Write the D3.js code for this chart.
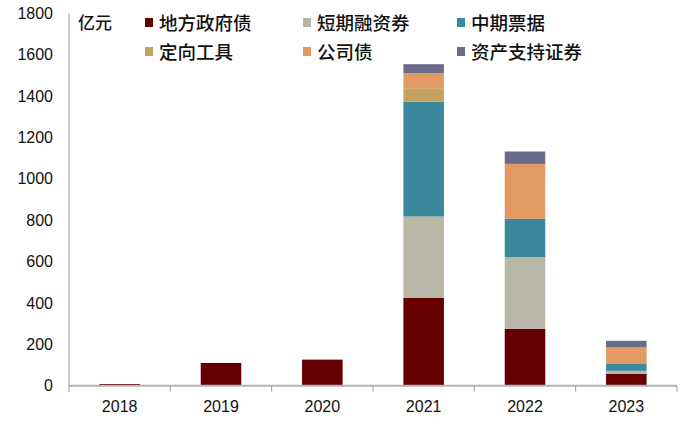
<!DOCTYPE html>
<html><head><meta charset="utf-8">
<script src="https://cdn.jsdelivr.net/npm/d3@7"></script>
<style>
html,body{margin:0;padding:0;background:#fff;}
svg{display:block;}
</style></head>
<body>
<svg id="c" width="696" height="425"></svg>
<script>
const years = ["2018","2019","2020","2021","2022","2023"];
const seriesNames = ["地方政府债","短期融资券","中期票据","定向工具","公司债","资产支持证券"];
const localGov = [8, 110, 126, 424, 275, 57];
const shortTerm = [0, 0, 0, 394, 347, 15];
const mediumNote = [0, 0, 0, 555, 185, 33];
const directional = [0, 0, 0, 65, 0, 0];
const corporate = [0, 0, 0, 73, 265, 80];
const abs = [0, 0, 0, 43, 60, 32];
const yTicks = [0,200,400,600,800,1000,1200,1400,1600,1800];
const unitLabel = "亿元";
const colors = ["#660000","#b8b7a7","#3a889b","#c4a262","#e39a62","#696b8a"];

const seriesValues = [localGov, shortTerm, mediumNote, directional, corporate, abs];
const table = years.map((y,i)=>{const o={year:y}; seriesNames.forEach((s,k)=>o[s]=seriesValues[k][i]); return o;});
const stack = d3.stack().keys(seriesNames)(table);

const svg = d3.select("#c");
const x = d3.scaleBand().domain(years).range([69,677]).paddingInner(0.6).paddingOuter(0.3);
const xb = d3.scaleBand().domain(years).range([69,677]);
const y = d3.scaleLinear().domain([0,1800]).range([385.7,13.3]);

const font = "'Liberation Sans', Arial, sans-serif";
const cjk = "'Noto Sans CJK SC', 'Noto Sans', sans-serif";

// bars
svg.append("g").selectAll("g").data(stack).join("g")
  .attr("fill",(d,i)=>colors[i])
  .selectAll("rect").data(d=>d).join("rect")
  .attr("x",d=>x(d.data.year))
  .attr("width",x.bandwidth())
  .attr("y",d=>y(d[1]))
  .attr("height",d=>Math.max(0,y(d[0])-y(d[1])));

// y axis
const yAxis = d3.axisLeft(y).tickValues(yTicks).tickFormat(d3.format("d")).tickSize(0).tickPadding(16);
const gy = svg.append("g").attr("transform","translate(69,0)").call(yAxis);
gy.select(".domain").attr("stroke","#9a9a9a").attr("d","M0,13.3V392");
gy.selectAll("text").attr("font-family",font).attr("font-size",16).attr("fill","#111");

// x axis
const gx = svg.append("g").attr("transform","translate(0,385.7)");
gx.append("line").attr("x1",69).attr("x2",677).attr("y1",0).attr("y2",0).attr("stroke","#b4b4b4").attr("stroke-width",2);
gx.selectAll("line.tk").data(years.slice(1).concat(["end"])).join("line").attr("class","tk")
  .attr("x1",d=> d==="end"?677:xb(d)).attr("x2",d=> d==="end"?677:xb(d))
  .attr("y1",0).attr("y2",6).attr("stroke","#9a9a9a");
gx.selectAll("text").data(years).join("text")
  .attr("x",d=>xb(d)+xb.bandwidth()/2).attr("y",26)
  .attr("text-anchor","middle").attr("font-family",font).attr("font-size",16).attr("fill","#111")
  .text(d=>d);

// unit label
svg.append("text").attr("x",78).attr("y",29).attr("font-family",cjk).attr("font-size",17).attr("font-weight",500).attr("fill","#111").text(unitLabel);

// legend
const legX = [145,303,457], legY=[23,52];
const lg = svg.append("g").selectAll("g").data(seriesNames).join("g")
  .attr("transform",(d,i)=>`translate(${legX[i%3]},${legY[Math.floor(i/3)]})`);
lg.append("rect").attr("x",0).attr("y",-5).attr("width",8).attr("height",9).attr("fill",(d,i)=>colors[i]);
lg.append("text").attr("x",14).attr("y",6.5).attr("font-family",cjk).attr("font-size",18.5).attr("font-weight",500).attr("fill","#111").text(d=>d);
</script>
</body></html>
